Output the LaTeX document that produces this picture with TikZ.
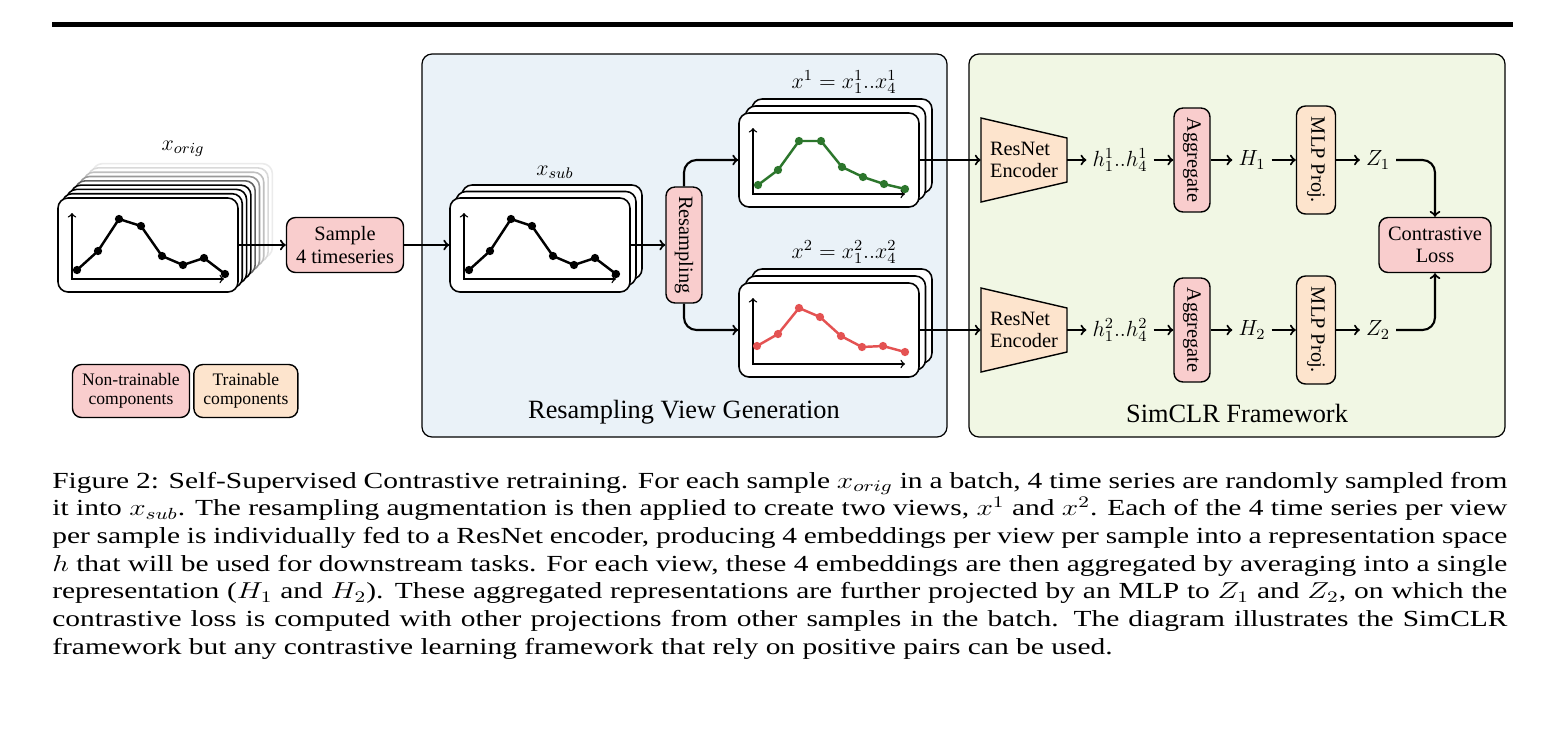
\documentclass[tikz,border=0pt]{standalone}
\usepackage{fix-cm}
\usepackage{fontspec}
\setmainfont{Liberation Serif}
\usepackage{graphicx}
\usepackage{tikz}
\usetikzlibrary{arrows}
\usetikzlibrary{positioning}

\definecolor{ntfill}{RGB}{249,205,205}
\definecolor{trfill}{RGB}{253,228,205}
\definecolor{viewbg}{RGB}{234,242,248}
\definecolor{simbg}{RGB}{241,247,228}
\definecolor{seriesgreen}{RGB}{44,118,44}
\definecolor{seriesred}{RGB}{228,82,82}

% axes + one time series inside a card (offsets in px from the card centre)
\newcommand{\drawseries}[3]{%
  \draw[axisline] ([shift={(-76,-32)}]#1.center) -- ([shift={(-76,34)}]#1.center) -- ([shift={(76,34)}]#1.center);
  \draw[series=#2,shift={(#1.center)}] plot coordinates {#3};
}

\begin{document}
\begin{tikzpicture}[x=0.02cm,y=-0.02cm,>=to,
  card/.style={draw,fill=white,rounded corners=0.2cm,line width=0.9pt,minimum width=3.6cm,minimum height=1.88cm,inner sep=0pt},
  axisline/.style={<->,line width=0.8pt},
  series/.style={draw=#1,line width=1.4pt,mark=*,mark size=1.6pt,mark options={fill=#1,draw=#1}},
  nodefont/.style={font=\fontsize{11.6}{12.6}\selectfont},
  ntbox/.style={draw,fill=ntfill,rounded corners=0.18cm,line width=0.8pt,align=center,inner sep=1pt,nodefont},
  trbox/.style={draw,fill=trfill,rounded corners=0.18cm,line width=0.8pt,align=center,inner sep=1pt,nodefont},
  legend/.style={font=\fontsize{10}{10.8}\selectfont,minimum height=1.06cm},
  enc/.style={align=left,inner sep=0pt,minimum width=1.72cm,nodefont},
  lbl/.style={font=\fontsize{12.5}{14}\selectfont},
  title/.style={font=\fontsize{15}{18}\selectfont},
  panel/.style={draw,rounded corners=0.2cm,line width=0.7pt},
  flow/.style={->,line width=1.2pt}]

  \useasboundingbox (0,0) rectangle (1566,745);
  \draw[line width=2.3pt] (52,24.5) -- (1513,24.5);

  % the two frames
  \draw[panel,fill=viewbg] (422,54) rectangle (947,437);
  \draw[panel,fill=simbg] (969,54) rectangle (1505,437);
  \node[title] (viewtitle) at (684,412) {Resampling View Generation};
  \node[title] (simtitle) at (1237,413) {SimCLR Framework};

  % original batch, fading stack
  \foreach \i/\shade in {8/8,7/15,6/25,5/40,4/62,3/100,2/100,1/100}
    \node[card,draw=black!\shade] at ([shift={(4.3*\i,-4.3*\i)}]148,245) {};
  \node[card] (orig) at (148,245) {};
  \drawseries{orig}{black}{(-71,25) (-50,6) (-29,-26) (-7,-19) (14,11) (35,20) (56,13) (77,29)}
  \node[lbl] (origlbl) at (183,149) {$x_{orig}$};

  \node[ntbox,minimum width=2.34cm,minimum height=1.1cm] (sample) at (345,245) {Sample\\4 timeseries};

  % sub-sampled series
  \foreach \i in {2,1}
    \node[card] at ([shift={(6*\i,-6.5*\i)}]540,245) {};
  \node[card] (xsub) at (540,245) {};
  \drawseries{xsub}{black}{(-71,25) (-50,6) (-29,-26) (-8,-19) (13,11) (34,20) (55,13) (76,29)}
  \node[lbl] (sublbl) at (555,172) {$x_{sub}$};

  \node[ntbox,rotate=-90,minimum width=2.32cm,minimum height=0.72cm] (resamp) at (684,245) {Resampling};

  % the two views
  \foreach \r in {160,330}
    \foreach \i in {2,1}
      \node[card] at ([shift={(6.5*\i,-7*\i)}]829,\r) {};
  \node[card] (xone) at (829,160) {};
  \node[card] (xtwo) at (829,330) {};
  \drawseries{xone}{seriesgreen}{(-71,25) (-51,10) (-30,-19) (-8,-19) (13,7) (34,17) (55,24) (76,29)}
  \drawseries{xtwo}{seriesred}{(-72,16) (-51,4) (-30,-22) (-9,-13) (12,6) (33,17) (54,16) (76,22)}
  \node[lbl] (onelbl) at (844,82) {$x^1 = x^1_1..x^1_4$};
  \node[lbl] (twolbl) at (844,252) {$x^2 = x^2_1..x^2_4$};

  % SimCLR branches
  \foreach \r/\n in {160/1,330/2} {
    \draw[fill=trfill,line width=0.8pt] (981,\r-42) -- (1067,\r-22) -- (1067,\r+22) -- (981,\r+42) -- cycle;
    \node[enc] (enc\n) at (1024,\r) {ResNet\\Encoder};
    \node[lbl] (h\n) at (1120,\r) {$h^\n_1..h^\n_4$};
    \node[ntbox,rotate=-90,minimum width=2.08cm,minimum height=0.72cm] (agg\n) at (1192,\r) {Aggregate};
    \node[lbl] (H\n) at (1252,\r) {$H_\n$};
    \node[trbox,rotate=-90,minimum width=2.16cm,minimum height=0.78cm] (mlp\n) at (1316,\r) {MLP Proj.};
    \node[lbl] (Z\n) at (1378,\r) {$Z_\n$};
    \draw[flow] (enc\n.east) -- (h\n);
    \draw[flow] (h\n) -- (agg\n.south);
    \draw[flow] (agg\n.north) -- (H\n);
    \draw[flow] (H\n) -- (mlp\n.south);
    \draw[flow] (mlp\n.north) -- (Z\n);
  }
  \node[ntbox,minimum width=2.24cm,minimum height=1.1cm] (loss) at (1435,245) {Contrastive\\Loss};

  % legend
  \node[ntbox,legend,minimum width=2.34cm] (ntlegend) at (131,391) {Non-trainable\\components};
  \node[trbox,legend,minimum width=2.08cm] (trlegend) [right=0.06cm of ntlegend] {Trainable\\components};

  \draw[flow] (orig.east) -- (sample.west);
  \draw[flow] (sample.east) -- (xsub.west);
  \draw[flow] (xsub.east) -- (resamp.south);
  \draw[flow,rounded corners=0.25cm] (resamp.west) |- (xone.west);
  \draw[flow,rounded corners=0.25cm] (resamp.east) |- (xtwo.west);
  \draw[flow] (xone.east) -- (enc1.west);
  \draw[flow] (xtwo.east) -- (enc2.west);
  \draw[flow,rounded corners=0.25cm] (Z1.east) -| (loss.north);
  \draw[flow,rounded corners=0.25cm] (Z2.east) -| (loss.south);

  \node[anchor=base west,inner sep=0pt] (caption) at (52,488) {\scalebox{1.28}[1]{\parbox[t]{647pt}{%
    \fontsize{13.1}{15.76}\selectfont\tolerance=9999\hyphenpenalty=10000
    Figure 2: Self-Supervised Contrastive retraining. For each sample $x_{orig}$ in a batch, 4 time series are randomly sampled from\linebreak
    it into $x_{sub}$. The resampling augmentation is then applied to create two views, $x^1$ and $x^2$. Each of the 4 time series per view\linebreak
    per sample is individually fed to a ResNet encoder, producing 4 embeddings per view per sample into a representation space\linebreak
    $h$ that will be used for downstream tasks. For each view, these 4 embeddings are then aggregated by averaging into a single\linebreak
    representation ($H_1$ and $H_2$). These aggregated representations are further projected by an MLP to $Z_1$ and $Z_2$, on which the\linebreak
    contrastive loss is computed with other projections from other samples in the batch. The diagram illustrates the SimCLR\linebreak
    framework but any contrastive learning framework that rely on positive pairs can be used.}}};
\end{tikzpicture}
\end{document}
